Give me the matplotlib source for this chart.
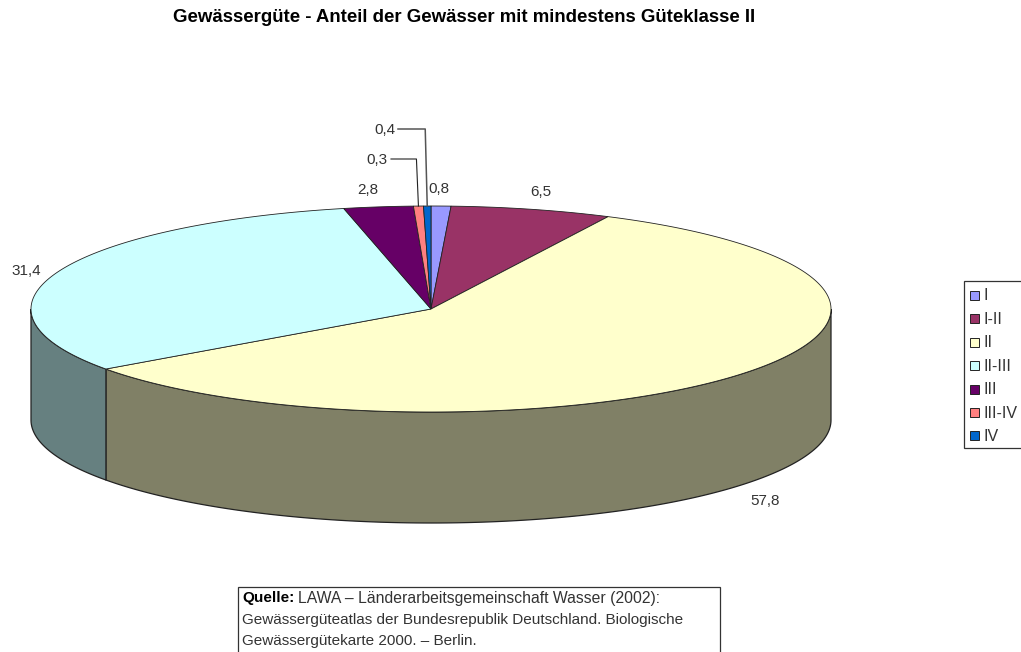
import numpy as np
import matplotlib
matplotlib.use('Agg')
import matplotlib.pyplot as plt
from matplotlib.patches import Rectangle

plt.rcParams['font.family'] = ['Liberation Sans', 'DejaVu Sans']

# Daten
klassen = ['I', 'I-II', 'II', 'II-III', 'III', 'III-IV', 'IV']
werte = [0.8, 6.5, 57.8, 31.4, 2.8, 0.4, 0.3]
farben = ['#9999FF', '#993366', '#FFFFCC', '#CCFFFF', '#660066', '#FF8080', '#0066CC']
seiten = ['#4C4C80', '#4C1933', '#808066', '#668080', '#330033', '#804040', '#003366']

# Beschriftungen: Text, x, y
labels = [('0,8', 439, 189), ('6,5', 541, 192), ('57,8', 765, 501), ('31,4', 26, 271),
          ('2,8', 368, 190), ('0,3', 377, 160), ('0,4', 385, 130)]

titel = 'Gewässergüte - Anteil der Gewässer mit mindestens Güteklasse II'

# Geometrie der Torte in Pixeln
cx, cy = 431, 309
rx, ry = 400, 103
tiefe = 111


def punkte(t):
    t = np.radians(t)
    return cx + rx * np.sin(t), cy - ry * np.cos(t)


fig = plt.figure(figsize=(10.21, 6.52), dpi=100)
ax = fig.add_axes([0, 0, 1, 1])
ax.set_xlim(0, 1021)
ax.set_ylim(652, 0)
ax.axis('off')

grenzen = np.concatenate(([0], np.cumsum(werte))) / np.sum(werte) * 360

# Seitenwand, nur vordere Haelfte
for i in range(len(werte)):
    a = max(grenzen[i], 90)
    b = min(grenzen[i + 1], 270)
    if a >= b:
        continue
    t = np.linspace(a, b, 200)
    x, y = punkte(t)
    ax.fill(np.concatenate((x, x[::-1])), np.concatenate((y, y[::-1] + tiefe)),
            facecolor=seiten[i], edgecolor='#222222', lw=0.9, zorder=2)

# Oberseite
for i in range(len(werte)):
    t = np.linspace(grenzen[i], grenzen[i + 1], 300)
    x, y = punkte(t)
    ax.fill(np.concatenate(([cx], x)), np.concatenate(([cy], y)),
            facecolor=farben[i], edgecolor='#222222', lw=0.6, zorder=3)

# Beschriftung
for text, x, y in labels:
    ax.text(x, y, text, fontsize=11, color='#333333', ha='center', va='center', zorder=5)

# Fuehrungslinien fuer die kleinen Anteile
mitte = (grenzen[:-1] + grenzen[1:]) / 2
for idx, lx, ly, c, w in [(5, 391, 159, '#222222', 0.8), (6, 398, 129, '#555555', 1.1)]:
    ex, ey = punkte(mitte[idx])
    knick = ex - 2
    ax.plot([lx, knick, ex], [ly, ly, ey], color=c, lw=w, zorder=4)

# Titel
ax.text(464.5, 18, titel, fontsize=13.4, fontweight='bold', ha='center', va='center', color='black')

# Legende
ax.add_patch(Rectangle((964, 281), 70, 167, facecolor='white', edgecolor='#333333', lw=0.9))
for i, k in enumerate(klassen):
    yy = 295.5 + i * 23.4
    ax.add_patch(Rectangle((969.5, yy - 4.5), 9, 9, facecolor=farben[i], edgecolor='#222222', lw=0.7))
    ax.text(983, yy + 0.5, k, fontsize=11.5, color='#333333', ha='left', va='center')

# Quelle
ax.add_patch(Rectangle((237.5, 586.5), 482, 80, facecolor='white', edgecolor='#333333', lw=0.9))
ax.text(242, 598, 'Quelle:', fontsize=11, fontweight='bold', va='center', color='black')
ax.text(298, 598, 'LAWA – Länderarbeitsgemeinschaft Wasser (2002):', fontsize=11.3, va='center', color='#333333')
ax.text(242, 620, 'Gewässergüteatlas der Bundesrepublik Deutschland. Biologische', fontsize=11, va='center', color='#333333')
ax.text(242, 641, 'Gewässergütekarte 2000. – Berlin.', fontsize=11, va='center', color='#333333')

fig.savefig('out.png', dpi=100, facecolor='white')
